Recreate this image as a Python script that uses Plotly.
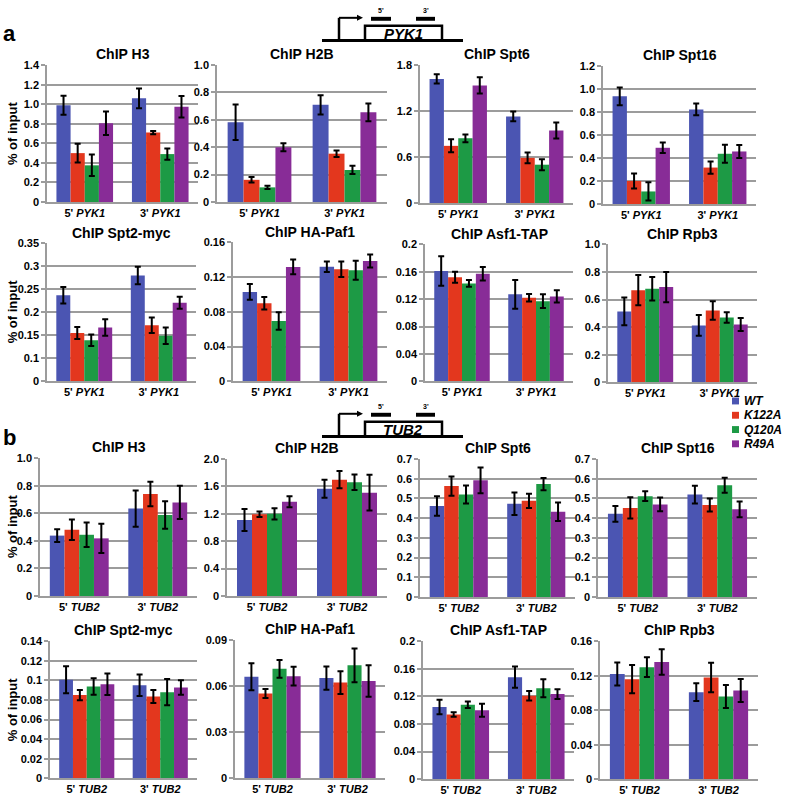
import plotly.graph_objects as go

W, H = 785, 799

# ---------------- data ----------------
strains = ["WT", "K122A", "Q120A", "R49A"]
strain_colors = ["#4b55b2", "#e3371e", "#1d9a45", "#882c97"]
sites_pyk1 = ["5' PYK1", "3' PYK1"]
sites_tub2 = ["5' TUB2", "3' TUB2"]

# rows: WT, K122A, Q120A, R49A ; columns: 5', 3'
a_h3_mean = [[0.99, 1.06], [0.50, 0.71], [0.375, 0.49], [0.805, 0.975]]
a_h3_err = [[0.097, 0.10], [0.097, 0.017], [0.11, 0.057], [0.12, 0.11]]
a_h2b_mean = [[0.583, 0.71], [0.162, 0.353], [0.107, 0.234], [0.40, 0.655]]
a_h2b_err = [[0.13, 0.07], [0.02, 0.024], [0.012, 0.03], [0.03, 0.065]]
a_spt6_mean = [[1.62, 1.13], [0.746, 0.589], [0.844, 0.50], [1.535, 0.947]]
a_spt6_err = [[0.06, 0.064], [0.085, 0.07], [0.05, 0.072], [0.107, 0.105]]
a_spt16_mean = [[0.937, 0.823], [0.20, 0.317], [0.109, 0.437], [0.489, 0.457]]
a_spt16_err = [[0.077, 0.051], [0.066, 0.053], [0.079, 0.079], [0.046, 0.057]]
a_spt2_mean = [[0.237, 0.28], [0.155, 0.172], [0.139, 0.149], [0.167, 0.221]]
a_spt2_err = [[0.018, 0.019], [0.013, 0.017], [0.0125, 0.018], [0.018, 0.013]]
a_paf1_mean = [[0.103, 0.132], [0.0898, 0.129], [0.0694, 0.128], [0.1317, 0.1385]]
a_paf1_err = [[0.009, 0.006], [0.0072, 0.009], [0.010, 0.011], [0.0085, 0.0075]]
a_asf1_mean = [[0.161, 0.127], [0.152, 0.122], [0.143, 0.117], [0.157, 0.124]]
a_asf1_err = [[0.0215, 0.021], [0.008, 0.0055], [0.005, 0.010], [0.0098, 0.009]]
a_rpb3_mean = [[0.514, 0.412], [0.668, 0.521], [0.678, 0.469], [0.69, 0.419]]
a_rpb3_err = [[0.10, 0.075], [0.11, 0.067], [0.085, 0.038], [0.11, 0.047]]

b_h3_mean = [[0.438, 0.634], [0.48, 0.739], [0.444, 0.587], [0.418, 0.679]]
b_h3_err = [[0.047, 0.132], [0.074, 0.089], [0.089, 0.10], [0.106, 0.12]]
b_h2b_mean = [[1.11, 1.567], [1.195, 1.70], [1.20, 1.662], [1.376, 1.51]]
b_h2b_err = [[0.16, 0.13], [0.04, 0.126], [0.083, 0.114], [0.08, 0.26]]
b_spt6_mean = [[0.462, 0.473], [0.563, 0.488], [0.52, 0.573], [0.592, 0.433]]
b_spt6_err = [[0.05, 0.057], [0.049, 0.036], [0.046, 0.031], [0.065, 0.047]]
b_spt16_mean = [[0.422, 0.52], [0.452, 0.467], [0.512, 0.567], [0.47, 0.445]]
b_spt16_err = [[0.04, 0.045], [0.054, 0.033], [0.025, 0.038], [0.035, 0.04]]
b_spt2_mean = [[0.1007, 0.095], [0.085, 0.0835], [0.0937, 0.088], [0.096, 0.0928]]
b_spt2_err = [[0.0137, 0.011], [0.0052, 0.0067], [0.0084, 0.0134], [0.011, 0.0074]]
b_paf1_mean = [[0.0662, 0.0654], [0.0553, 0.0624], [0.0714, 0.0737], [0.0666, 0.0634]]
b_paf1_err = [[0.0088, 0.0076], [0.003, 0.0075], [0.0058, 0.011], [0.0061, 0.0103]]
b_asf1_mean = [[0.1048, 0.148], [0.0938, 0.121], [0.108, 0.132], [0.10, 0.1234]]
b_asf1_err = [[0.0105, 0.0155], [0.0033, 0.007], [0.0048, 0.013], [0.0095, 0.007]]
b_rpb3_mean = [[0.122, 0.101], [0.116, 0.118], [0.13, 0.096], [0.136, 0.1029]]
b_rpb3_err = [[0.0133, 0.0103], [0.0164, 0.017], [0.0114, 0.0133], [0.0149, 0.0133]]

# y tick values and labels
ticks_0_14 = [0, 0.2, 0.4, 0.6, 0.8, 1.0, 1.2, 1.4]
labels_0_14 = ["0", "0.2", "0.4", "0.6", "0.8", "1.0", "1.2", "1.4"]
ticks_0_10 = [0, 0.2, 0.4, 0.6, 0.8, 1.0]
labels_0_10 = ["0", "0.2", "0.4", "0.6", "0.8", "1.0"]
ticks_0_18 = [0, 0.6, 1.2, 1.8]
labels_0_18 = ["0", "0.6", "1.2", "1.8"]
ticks_0_12 = [0, 0.2, 0.4, 0.6, 0.8, 1.0, 1.2]
labels_0_12 = ["0", "0.2", "0.4", "0.6", "0.8", "1.0", "1.2"]
ticks_spt2a = [0.05, 0.1, 0.15, 0.2, 0.25, 0.3, 0.35]
labels_spt2a = ["0", "0.1", "0.15", "0.2", "0.25", "0.3", "0.35"]
ticks_0_016 = [0, 0.04, 0.08, 0.12, 0.16]
labels_0_016 = ["0", "0.04", "0.08", "0.12", "0.16"]
ticks_0_02 = [0, 0.04, 0.08, 0.12, 0.16, 0.2]
labels_0_02 = ["0", "0.04", "0.08", "0.12", "0.16", "0.2"]
ticks_0_20 = [0, 0.4, 0.8, 1.2, 1.6, 2.0]
labels_0_20 = ["0", "0.4", "0.8", "1.2", "1.6", "2.0"]
ticks_0_07 = [0, 0.1, 0.2, 0.3, 0.4, 0.5, 0.6, 0.7]
labels_0_07 = ["0", "0.1", "0.2", "0.3", "0.4", "0.5", "0.6", "0.7"]
ticks_0_014 = [0, 0.02, 0.04, 0.06, 0.08, 0.1, 0.12, 0.14]
labels_0_014 = ["0", "0.02", "0.04", "0.06", "0.08", "0.1", "0.12", "0.14"]
ticks_0_009 = [0, 0.03, 0.06, 0.09]
labels_0_009 = ["0", "0.03", "0.06", "0.09"]

# ---------------- layout of panels (pixels) ----------------
# (title, sites, mean, err, ticks, labels, left, right, top, bottom)
panels = [
    ("ChIP H3", sites_pyk1, a_h3_mean, a_h3_err, ticks_0_14, labels_0_14, 47, 198, 60, 199),
    ("ChIP H2B", sites_pyk1, a_h2b_mean, a_h2b_err, ticks_0_10, labels_0_10, 217, 387, 60, 199),
    ("ChIP Spt6", sites_pyk1, a_spt6_mean, a_spt6_err, ticks_0_18, labels_0_18, 420, 573, 60, 200),
    ("ChIP Spt16", sites_pyk1, a_spt16_mean, a_spt16_err, ticks_0_12, labels_0_12, 603, 756, 61, 201),
    ("ChIP Spt2-myc", sites_pyk1, a_spt2_mean, a_spt2_err, ticks_spt2a, labels_spt2a, 47, 196, 241, 381),
    ("ChIP HA-Paf1", sites_pyk1, a_paf1_mean, a_paf1_err, ticks_0_016, labels_0_016, 233, 387, 240, 381),
    ("ChIP Asf1-TAP", sites_pyk1, a_asf1_mean, a_asf1_err, ticks_0_02, labels_0_02, 425, 573, 242, 381),
    ("ChIP Rpb3", sites_pyk1, a_rpb3_mean, a_rpb3_err, ticks_0_10, labels_0_10, 608, 757, 242, 382),
    ("ChIP H3", sites_tub2, b_h3_mean, b_h3_err, ticks_0_10, labels_0_10, 40, 197, 459, 599),
    ("ChIP H2B", sites_tub2, b_h2b_mean, b_h2b_err, ticks_0_20, labels_0_20, 227, 387, 460, 599),
    ("ChIP Spt6", sites_tub2, b_spt6_mean, b_spt6_err, ticks_0_07, labels_0_07, 420, 575, 460, 600),
    ("ChIP Spt16", sites_tub2, b_spt16_mean, b_spt16_err, ticks_0_07, labels_0_07, 598, 757, 460, 600),
    ("ChIP Spt2-myc", sites_tub2, b_spt2_mean, b_spt2_err, ticks_0_014, labels_0_014, 50, 197, 645, 784),
    ("ChIP HA-Paf1", sites_tub2, b_paf1_mean, b_paf1_err, ticks_0_009, labels_0_009, 235, 385, 644, 784),
    ("ChIP Asf1-TAP", sites_tub2, b_asf1_mean, b_asf1_err, ticks_0_02, labels_0_02, 423, 574, 645, 785),
    ("ChIP Rpb3", sites_tub2, b_rpb3_mean, b_rpb3_err, ticks_0_016, labels_0_016, 600, 758, 645, 785),
]

FONT = "Liberation Sans"
GRID = "#9c9c9c"


def px(x):
    return x / W


def py(y):
    return 1 - y / H


fig = go.Figure()
layout = dict(
    width=W, height=H, margin=dict(l=0, r=0, t=0, b=0),
    paper_bgcolor="white", plot_bgcolor="white",
    barmode="group", bargap=0.25, bargroupgap=0,
    showlegend=False, font=dict(family=FONT, color="black"),
)
annotations = []
shapes = []

for n, (title, sites, mean, err, tv, tt, l, r, t, b) in enumerate(panels, start=1):
    xa = "x" if n == 1 else f"x{n}"
    ya = "y" if n == 1 else f"y{n}"
    for i, s in enumerate(strains):
        fig.add_trace(go.Bar(
            x=sites, y=mean[i], name=s, marker_color=strain_colors[i],
            marker_line_width=0, xaxis=xa, yaxis=ya, showlegend=False,
            error_y=dict(type="data", array=err[i], color="black", thickness=2, width=3),
        ))
    ticktext_x = []
    for s in sites:
        pre, gene = s.split(" ")
        ticktext_x.append(f"{pre} <i>{gene}</i>")
    layout["xaxis" if n == 1 else f"xaxis{n}"] = dict(
        domain=[px(l), px(r)], anchor=ya, type="category",
        tickvals=sites, ticktext=ticktext_x, ticks="",
        tickfont=dict(family=FONT, size=11, weight="bold", color="black"),
        showline=True, linecolor=GRID, linewidth=2, showgrid=False, fixedrange=True,
    )
    layout["yaxis" if n == 1 else f"yaxis{n}"] = dict(
        domain=[py(b), py(t)], anchor=xa, range=[tv[0], tv[-1]],
        tickvals=tv, ticktext=tt, ticks="outside", ticklen=4, tickcolor=GRID,
        tickwidth=1.5,
        tickfont=dict(family=FONT, size=11, weight="bold", color="black"),
        showline=True, linecolor=GRID, linewidth=1.5,
        showgrid=True, gridcolor=GRID, gridwidth=1.6, zeroline=False, fixedrange=True,
    )
    annotations.append(dict(
        text=title, x=px((l + r) / 2), y=py(t - 11), xref="paper", yref="paper",
        showarrow=False, xanchor="center", yanchor="middle",
        font=dict(family=FONT, size=14, weight="bold", color="black"),
    ))

# y axis titles
for yc in [130, 311, 529, 715]:
    annotations.append(dict(
        text="% of input", x=px(12), y=py(yc), xref="paper", yref="paper",
        showarrow=False, textangle=-90, xanchor="center", yanchor="middle",
        font=dict(family=FONT, size=13, weight="bold", color="black"),
    ))

# section letters
for letter, yc in [("a", 28), ("b", 438)]:
    annotations.append(dict(
        text=letter, x=px(9), y=py(yc), xref="paper", yref="paper",
        showarrow=False, xanchor="center", yanchor="middle",
        font=dict(family=FONT, size=22, weight="bold", color="black"),
    ))


# gene diagrams
def line(x0, y0, x1, y1, w=2.5):
    shapes.append(dict(type="line", xref="paper", yref="paper",
                       x0=px(x0), y0=py(y0), x1=px(x1), y1=py(y1),
                       line=dict(color="black", width=w)))


def rect(x0, y0, x1, y1, fill=None, w=2.5):
    shapes.append(dict(type="rect", xref="paper", yref="paper",
                       x0=px(x0), y0=py(y0), x1=px(x1), y1=py(y1),
                       line=dict(color="black", width=0 if fill else w),
                       fillcolor=fill if fill else "rgba(0,0,0,0)"))


for gene, off in [("PYK1", 0), ("TUB2", 402)]:
    line(322, 35 + off, 463, 35 + off, 3)
    line(339, 35 + off, 339, 12 + off, 2.5)
    line(339, 12 + off, 358, 12 + off, 2)
    shapes.append(dict(type="path", xref="paper", yref="paper",
                       path=f"M {px(357)} {py(9 + off)} L {px(363)} {py(12 + off)} L {px(357)} {py(15 + off)} Z",
                       fillcolor="black", line=dict(color="black", width=0)))
    rect(365, 20 + off, 442, 35 + off)
    rect(371, 11 + off, 391, 15 + off, fill="black")
    rect(416, 11 + off, 435, 15 + off, fill="black")
    annotations.append(dict(text=f"<i>{gene}</i>", x=px(403), y=py(28 + off), xref="paper", yref="paper",
                            showarrow=False, xanchor="center", yanchor="middle",
                            font=dict(family=FONT, size=15, weight="bold", color="black")))
    for lab, xc in [("5'", 381), ("3'", 426)]:
        annotations.append(dict(text=lab, x=px(xc), y=py(5 + off), xref="paper", yref="paper",
                                showarrow=False, xanchor="center", yanchor="middle",
                                font=dict(family=FONT, size=7, weight="bold", color="black")))

# legend
for i, s in enumerate(strains):
    yc = 401 + 14.5 * i
    rect(732, yc - 3.5, 739, yc + 3.5, fill=strain_colors[i])
    annotations.append(dict(text=f"<i>{s}</i>", x=px(743), y=py(yc), xref="paper", yref="paper",
                            showarrow=False, xanchor="left", yanchor="middle",
                            borderpad=0,
                            font=dict(family=FONT, size=12, weight="bold", color="black")))

layout["annotations"] = annotations
layout["shapes"] = shapes
fig.update_layout(**layout)

fig.write_html("out.html", config={"displayModeBar": False},
               post_script="document.body.style.margin='0';")
